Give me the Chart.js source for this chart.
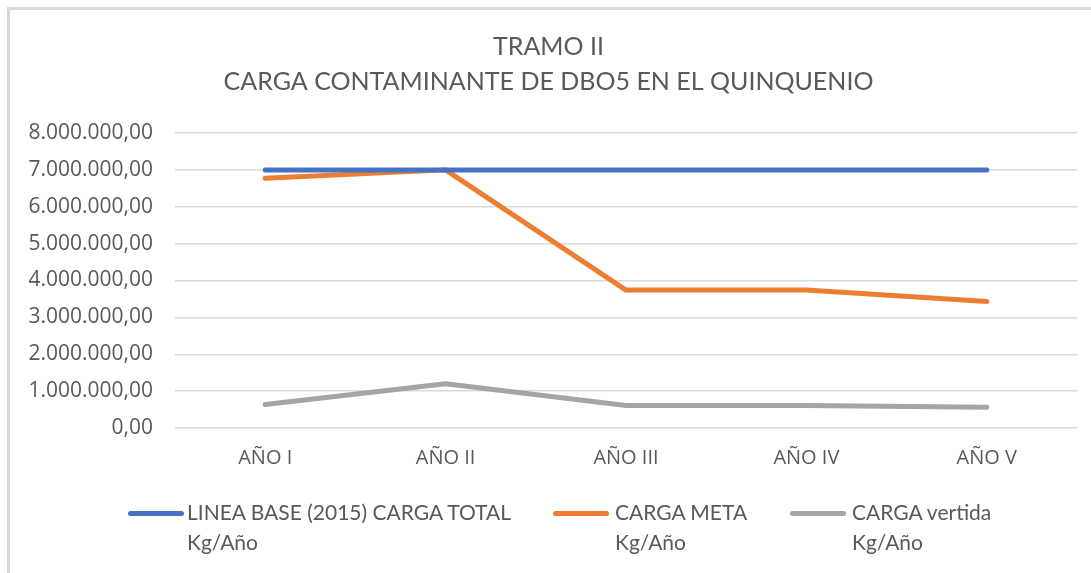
<!DOCTYPE html>
<html>
<head>
<meta charset="utf-8">
<script src="https://cdn.jsdelivr.net/npm/chart.js@4"></script>
<style>
  html, body { margin: 0; padding: 0; background: #fff; }
  #frame {
    position: absolute; left: 7px; top: 7px; width: 1084px; height: 566px;
    border-top: 3px solid #d9d9d9; border-left: 3px solid #d9d9d9;
  }
  #wrap { position: absolute; left: 0; top: 0; width: 1091px; height: 573px; }
  #legend {
    position: absolute; top: 497px; left: 0; width: 1091px; height: 60px;
    font-family: Lato, sans-serif; font-size: 21px; color: #595959;
  }
  .item { position: absolute; top: 0; line-height: 30px; }
  .swatch { position: absolute; top: 14px; width: 56px; height: 5px; border-radius: 3px; }
  .txt { position: absolute; white-space: nowrap; }
</style>
</head>
<body>
<div id="frame"></div>
<div id="wrap"><canvas id="chart" width="1091" height="573"></canvas></div>
<div id="legend"></div>
<script>
// datos
const categorias = ['AÑO I', 'AÑO II', 'AÑO III', 'AÑO IV', 'AÑO V'];
const lineaBase = [7000000, 7000000, 7000000, 7000000, 7000000];
const cargaMeta = [6770000, 7000000, 3740000, 3740000, 3430000];
const cargaVertida = [640000, 1200000, 610000, 610000, 560000];

const nombres = [
    ['LINEA BASE (2015) CARGA TOTAL', 'Kg/Año'],
    ['CARGA META', 'Kg/Año'],
    ['CARGA vertida', 'Kg/Año'],
];
const colores = ['#4472C4', '#ED7D31', '#A5A5A5'];
const FONT_TITULO = 'Lato, sans-serif';
const FONT_EJES = '"Open Sans", sans-serif';

const fmt = v => v.toLocaleString('de-DE', { minimumFractionDigits: 2, maximumFractionDigits: 2 });

function serie(i, data) {
    return {
        label: nombres[i].join(' '),
        data,
        borderColor: colores[i],
        backgroundColor: colores[i],
        borderWidth: 5,
        borderCapStyle: 'round',
        borderJoinStyle: 'round',
        pointRadius: 0,
        tension: 0,
    };
}

new Chart(document.getElementById('chart'), {
    type: 'line',
    data: {
        labels: categorias,
        datasets: [serie(0, lineaBase), serie(1, cargaMeta), serie(2, cargaVertida)],
    },
    options: {
        responsive: false,
        animation: false,
        layout: { padding: { left: 20, right: 14, top: 29, bottom: 85 } },
        plugins: {
            legend: { display: false },
            tooltip: { enabled: false },
            title: {
                display: true,
                text: ['TRAMO II', 'CARGA CONTAMINANTE DE DBO5 EN EL QUINQUENIO'],
                color: '#595959',
                font: { family: FONT_TITULO, size: 25, weight: 'normal', lineHeight: 1.4 },
                padding: { top: 0, bottom: 34 },
            },
        },
        scales: {
            x: {
                offset: true,
                grid: { display: false, drawTicks: false },
                border: { display: false },
                ticks: { color: '#595959', font: { family: FONT_EJES, size: 20 }, padding: 18 },
            },
            y: {
                min: 0,
                max: 8000000,
                afterFit(scale) { scale.width = 155; },
                grid: { color: '#d9d9d9', lineWidth: 1.5, drawTicks: false },
                border: { display: false },
                ticks: {
                    stepSize: 1000000,
                    color: '#595959',
                    font: { family: FONT_EJES, size: 21 },
                    padding: 22,
                    callback: v => fmt(v),
                },
            },
        },
    },
});

// leyenda en HTML (etiquetas de dos líneas)
const legendPos = [{ sw: 128, tx: 187 }, { sw: 553, tx: 615 }, { sw: 790, tx: 852 }];
const legend = document.getElementById('legend');
nombres.forEach((n, i) => {
    const item = document.createElement('div');
    item.className = 'item';
    item.innerHTML =
        `<div class="swatch" style="left:${legendPos[i].sw}px;background:${colores[i]}"></div>` +
        `<div class="txt" style="left:${legendPos[i].tx}px">${n[0]}<br>${n[1]}</div>`;
    legend.appendChild(item);
});
</script>
</body>
</html>
